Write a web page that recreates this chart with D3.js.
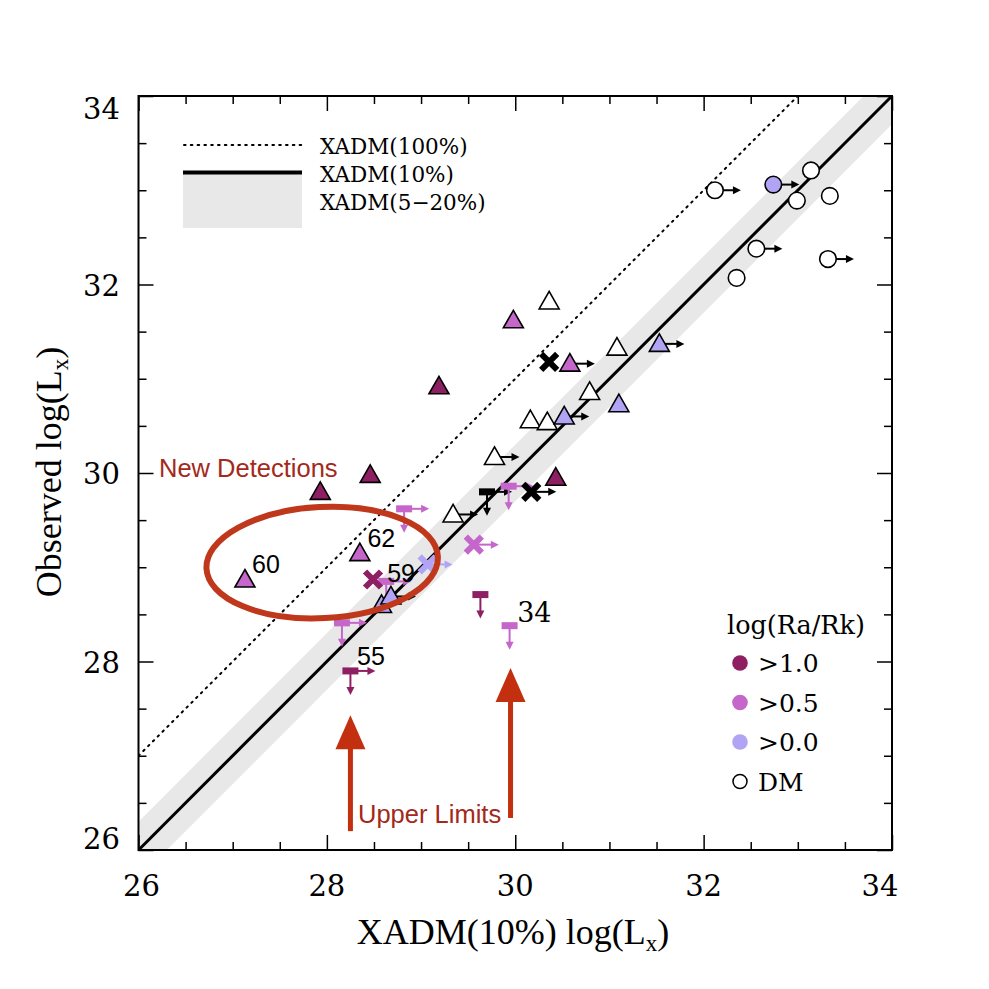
<!DOCTYPE html>
<html><head><meta charset="utf-8">
<script src="https://cdn.jsdelivr.net/npm/d3@7"></script>
<style>body{margin:0;background:#fff}svg{display:block}</style>
</head><body>
<svg id="c" width="989" height="989"></svg>
<script>
// ---------------- data ----------------
const xTickLabels = [26, 28, 30, 32, 34];
const yTickLabels = [26, 28, 30, 32, 34];
const groups = ["gt1.0", "gt0.5", "gt0.0", "DM"];
const groupLabels = [">1.0", ">0.5", ">0.0", "DM"];
const groupColors = {"gt1.0": "#8e1f63", "gt0.5": "#c466ca", "gt0.0": "#b2a4f4", "DM": "#ffffff", "black": "#000000"};

// triangles: [xadm, observed, group, hasRightArrow]
const triangles = [
  [31.08, 31.33, "DM", 0], [30.79, 30.86, "DM", 0], [30.16, 30.56, "DM", 0],
  [30.34, 30.54, "DM", 0], [29.78, 30.17, "DM", 1], [29.34, 29.56, "DM", 1],
  [30.36, 31.82, "DM", 0],
  [31.53, 31.37, "gt0.0", 1], [31.10, 30.73, "gt0.0", 0], [30.52, 30.60, "gt0.0", 1],
  [28.58, 28.60, "gt0.0", 0], [28.68, 28.69, "gt0.0", 1],
  [30.58, 31.16, "gt0.5", 1], [29.98, 31.62, "gt0.5", 0], [27.13, 28.87, "gt0.5", 0],
  [28.35, 29.15, "gt0.5", 0],
  [29.19, 30.92, "gt1.0", 0], [28.46, 29.98, "gt1.0", 0], [27.93, 29.80, "gt1.0", 0],
  [30.43, 29.95, "gt1.0", 0]
];
// circles: [xadm, observed, group, hasRightArrow]
const circles = [
  [32.12, 33.00, "DM", 1], [33.14, 33.21, "DM", 0], [32.99, 32.89, "DM", 0],
  [33.34, 32.94, "DM", 0], [32.56, 32.38, "DM", 1], [33.32, 32.27, "DM", 1],
  [32.35, 32.07, "DM", 0], [32.74, 33.06, "gt0.0", 1]
];
// crosses: [xadm, observed, group, hasRightArrow]
const crosses = [
  [30.36, 31.18, "black", 0], [30.17, 29.80, "black", 1], [28.49, 28.87, "gt1.0", 0],
  [29.56, 29.24, "gt0.5", 1], [29.07, 29.03, "gt0.0", 1]
];
// upper limits: [xadm, observed, group, hasRightArrow]
const upperLimits = [
  [29.70, 29.80, "black", 1], [29.93, 29.86, "gt0.5", 1], [28.82, 29.62, "gt0.5", 1],
  [28.16, 28.41, "gt0.5", 1], [28.25, 27.90, "gt1.0", 1], [29.63, 28.71, "gt1.0", 0],
  [29.94, 28.38, "gt0.5", 0], [28.63, 28.85, "gt0.5", 1]
];
// point labels: [text, x, y, font]
const pointLabels = [
  ["60", 27.205, 28.94, "sans"], ["62", 28.43, 29.21, "sans"], ["59", 28.64, 28.84, "sans"],
  ["55", 28.32, 27.96, "sans"], ["34", 30.02, 28.42, "serif"]
];
const modelLines = [
  {name: "XADM(100%)", offset: 1.0},
  {name: "XADM(10%)", offset: 0.0}
];
const bandOffsets = [-0.301, 0.301]; // XADM(5-20%)

// ---------------- layout ----------------
const svg = d3.select("#c");
const X0 = 138.5, X1 = 892, Y0 = 850, Y1 = 96;
const x = d3.scaleLinear().domain([26, 34]).range([X0, X1]);
const y = d3.scaleLinear().domain([26, 34]).range([Y0, Y1]);
const serif = "'DejaVu Serif', serif";
const tserif = "'Liberation Serif', 'Times New Roman', serif";
const sans = "'Liberation Sans', Arial, sans-serif";
const annotRed = "#a3291b";
const arrowRed = "#c2300f";

svg.append("defs").append("clipPath").attr("id", "clip")
  .append("rect").attr("x", X0).attr("y", Y1).attr("width", X1 - X0).attr("height", Y0 - Y1);

const plot = svg.append("g").attr("clip-path", "url(#clip)");

// band
const bandPts = [[26, 26 + bandOffsets[0]], [34, 34 + bandOffsets[0]], [34, 34 + bandOffsets[1]], [26, 26 + bandOffsets[1]]];
plot.append("path").attr("d", d3.line().x(d => x(d[0])).y(d => y(d[1]))(bandPts) + "Z")
  .attr("fill", "#e8e8e8");
// lines
plot.append("line").attr("x1", x(26)).attr("y1", y(26 + modelLines[0].offset))
  .attr("x2", x(34)).attr("y2", y(34 + modelLines[0].offset))
  .attr("stroke", "#000").attr("stroke-width", 2).attr("stroke-dasharray", "1.6,5.2").attr("stroke-linecap", "round");
plot.append("line").attr("x1", x(26)).attr("y1", y(26 + modelLines[1].offset))
  .attr("x2", x(34)).attr("y2", y(34 + modelLines[1].offset))
  .attr("stroke", "#000").attr("stroke-width", 3);

// axes ticks
function ticks(axisGen, tx, ty, size, values) {
  const g = svg.append("g").attr("transform", `translate(${tx},${ty})`)
    .call(axisGen.tickValues(values).tickSize(size).tickFormat(""));
  g.select(".domain").remove();
  g.selectAll("line").attr("stroke", "#000").attr("stroke-width", 1.5);
}
const major = d3.range(26, 34.01, 2);
const minor = d3.range(26, 34.01, 0.5).filter(v => v % 2 !== 0);
ticks(d3.axisBottom(x), 0, Y0, -15, major);
ticks(d3.axisBottom(x), 0, Y0, -8, minor);
ticks(d3.axisTop(x), 0, Y1, -15, major);
ticks(d3.axisTop(x), 0, Y1, -8, minor);
ticks(d3.axisLeft(y), X0, 0, -15, major);
ticks(d3.axisLeft(y), X0, 0, -8, minor);
ticks(d3.axisRight(y), X1, 0, -15, major);
ticks(d3.axisRight(y), X1, 0, -8, minor);

// frame
svg.append("rect").attr("x", X0).attr("y", Y1).attr("width", X1 - X0).attr("height", Y0 - Y1)
  .attr("fill", "none").attr("stroke", "#000").attr("stroke-width", 2);

// tick labels
svg.selectAll(".xl").data(xTickLabels).enter().append("text")
  .attr("x", (d, i) => x(d) + (i === 0 ? 3 : i === xTickLabels.length - 1 ? -12 : 0))
  .attr("y", 896).attr("text-anchor", "middle")
  .attr("font-family", serif).attr("font-size", 29).text(d => d);
svg.selectAll(".yl").data(yTickLabels).enter().append("text")
  .attr("x", 120)
  .attr("y", (d, i) => y(d) + 11 + (i === 0 ? -12 : i === yTickLabels.length - 1 ? 12 : 0))
  .attr("text-anchor", "end")
  .attr("font-family", serif).attr("font-size", 29).text(d => d);

// axis titles
const xt = svg.append("text").attr("x", 513).attr("y", 944).attr("text-anchor", "middle")
  .attr("font-family", tserif).attr("font-size", 36);
xt.append("tspan").text("XADM(10%)  log(L");
xt.append("tspan").attr("font-size", 23).attr("dy", 7).text("x");
xt.append("tspan").attr("dy", -7).text(")");
const yt = svg.append("text").attr("transform", "translate(61,472) rotate(-90)").attr("text-anchor", "middle")
  .attr("font-family", tserif).attr("font-size", 36);
yt.append("tspan").text("Observed  log(L");
yt.append("tspan").attr("font-size", 23).attr("dy", 7).text("x");
yt.append("tspan").attr("dy", -7).text(")");

// ---------------- markers ----------------
const marks = svg.append("g");
function rightArrow(cx, cy, color, start, len) {
  marks.append("line").attr("x1", cx + start).attr("y1", cy).attr("x2", cx + len - 6).attr("y2", cy)
    .attr("stroke", color).attr("stroke-width", 2);
  marks.append("path").attr("d", `M${cx + len},${cy} L${cx + len - 8},${cy - 4} L${cx + len - 8},${cy + 4} Z`)
    .attr("fill", color);
}
function downArrow(cx, cy, color, len) {
  marks.append("line").attr("x1", cx).attr("y1", cy).attr("x2", cx).attr("y2", cy + len - 6)
    .attr("stroke", color).attr("stroke-width", 2);
  marks.append("path").attr("d", `M${cx},${cy + len} L${cx - 4},${cy + len - 8} L${cx + 4},${cy + len - 8} Z`)
    .attr("fill", color);
}

// upper limits
upperLimits.forEach(d => {
  const cx = x(d[0]), cy = y(d[1]), c = groupColors[d[2]];
  if (d[3]) rightArrow(cx, cy, c, 6, 25);
  downArrow(cx, cy, c, 24);
  marks.append("rect").attr("x", cx - 8).attr("y", cy - 3.5).attr("width", 16).attr("height", 7).attr("fill", c);
});
// crosses
crosses.forEach(d => {
  const cx = x(d[0]), cy = y(d[1]), c = groupColors[d[2]];
  if (d[3]) rightArrow(cx, cy, d[2] === "black" ? "#000" : c, 0, 25);
  const s = 8;
  marks.append("path").attr("d", `M${cx - s},${cy - s} L${cx + s},${cy + s} M${cx - s},${cy + s} L${cx + s},${cy - s}`)
    .attr("stroke", c).attr("stroke-width", 6).attr("stroke-linecap", "butt");
});
// triangles
const triPath = (cx, cy) => `M${cx},${cy - 10} L${cx + 10},${cy + 7.5} L${cx - 10},${cy + 7.5} Z`;
triangles.forEach(d => {
  const cx = x(d[0]), cy = y(d[1]);
  if (d[3]) rightArrow(cx, cy, "#000", 0, 25);
  marks.append("path").attr("d", triPath(cx, cy)).attr("fill", groupColors[d[2]])
    .attr("stroke", "#000").attr("stroke-width", 1.6).attr("stroke-linejoin", "miter");
});
// circles
circles.forEach(d => {
  const cx = x(d[0]), cy = y(d[1]);
  if (d[3]) rightArrow(cx, cy, "#000", 0, 26);
  marks.append("circle").attr("cx", cx).attr("cy", cy).attr("r", 8.3).attr("fill", groupColors[d[2]])
    .attr("stroke", "#000").attr("stroke-width", 1.6);
});

// point labels
pointLabels.forEach(d => {
  svg.append("text").attr("x", x(d[1])).attr("y", y(d[2]))
    .attr("font-family", d[3] === "serif" ? serif : sans).attr("font-size", d[3] === "serif" ? 27 : 25)
    .attr("fill", "#000").text(d[0]);
});

// ---------------- annotations ----------------
const ell = {cx: 27.95, cy: 29.05, rx: 1.23, ry: 0.59};
svg.append("ellipse")
  .attr("transform", `translate(${x(ell.cx)},${y(ell.cy)}) rotate(-3)`)
  .attr("rx", x(26 + ell.rx) - x(26)).attr("ry", y(26) - y(26 + ell.ry))
  .attr("fill", "none").attr("stroke", "#c0381c").attr("stroke-width", 6);
svg.append("text").attr("x", 159).attr("y", 477).attr("font-family", sans).attr("font-size", 25.5)
  .attr("fill", annotRed).text("New Detections");

const redArrows = [{x: 28.25, y0: 26.20, y1: 27.43}, {x: 29.95, y0: 26.34, y1: 27.93}];
redArrows.forEach(a => {
  const cx = x(a.x), yb = y(a.y0), yt2 = y(a.y1);
  svg.append("rect").attr("x", cx - 2.5).attr("y", yt2 + 30).attr("width", 5).attr("height", yb - yt2 - 30).attr("fill", arrowRed);
  svg.append("path").attr("d", `M${cx},${yt2} L${cx + 15},${yt2 + 34} L${cx - 15},${yt2 + 34} Z`).attr("fill", arrowRed);
});
svg.append("text").attr("x", 358).attr("y", 823).attr("font-family", sans).attr("font-size", 25.5)
  .attr("fill", annotRed).text("Upper Limits");

// ---------------- legends ----------------
const lg = svg.append("g");
lg.append("rect").attr("x", 183).attr("y", 174).attr("width", 119).attr("height", 54).attr("fill", "#e8e8e8");
lg.append("line").attr("x1", 184).attr("x2", 302).attr("y1", 145).attr("y2", 145)
  .attr("stroke", "#000").attr("stroke-width", 2).attr("stroke-dasharray", "1.6,5.2").attr("stroke-linecap", "round");
lg.append("line").attr("x1", 183).attr("x2", 302).attr("y1", 172.5).attr("y2", 172.5)
  .attr("stroke", "#000").attr("stroke-width", 4);
const legTexts = [modelLines[0].name, modelLines[1].name, "XADM(5\u221220%)"];
legTexts.forEach((t, i) => {
  lg.append("text").attr("x", 320).attr("y", 154 + i * 28).attr("font-family", serif).attr("font-size", 21.5).text(t);
});

const lg2 = svg.append("g");
lg2.append("text").attr("x", 727).attr("y", 634).attr("font-family", serif).attr("font-size", 25.5).text("log(Ra/Rk)");
groups.forEach((g, i) => {
  const cy = 663 + i * 39.5;
  lg2.append("circle").attr("cx", 740).attr("cy", cy).attr("r", g === "DM" ? 7 : 7.8)
    .attr("fill", groupColors[g]).attr("stroke", g === "DM" ? "#000" : "none").attr("stroke-width", 1.5);
  lg2.append("text").attr("x", 758).attr("y", cy + 9).attr("font-family", serif).attr("font-size", 25).text(groupLabels[i]);
});
</script>
</body></html>
